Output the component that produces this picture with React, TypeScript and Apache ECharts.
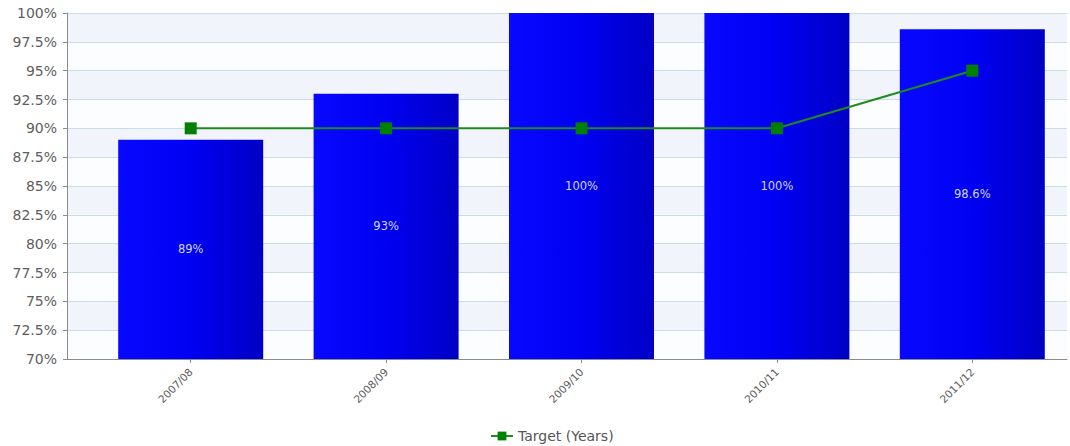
import React, { useEffect, useRef } from "react";
import * as echarts from "echarts";

// Reporting years on the category axis
const years = ["2007/08", "2008/09", "2009/10", "2010/11", "2011/12"];
// Achieved percentage per year (bars)
const achieved = [89, 93, 100, 100, 98.6];
// Target percentage per year (line)
const target = [90, 90, 90, 90, 95];
// Value axis range and step
const yMin = 70;
const yMax = 100;
const yStep = 2.5;

const FONT = "DejaVu Sans";

export default function App() {
  const ref = useRef<HTMLDivElement>(null);

  useEffect(() => {
    if (!ref.current) return;
    const chart = echarts.init(ref.current, undefined, { renderer: "svg" });

    const barFill = new echarts.graphic.LinearGradient(0, 0, 1, 0, [
      { offset: 0, color: "#0808ff" },
      { offset: 0.5, color: "#0000f2" },
      { offset: 1, color: "#0000c6" },
    ]);

    chart.setOption({
      animation: false,
      backgroundColor: "#ffffff",
      textStyle: { fontFamily: FONT },
      grid: [
        // plot frame: value axis, bands and grid lines
        { left: 67, top: 13, width: 1000, height: 346 },
        // band area the bars are laid out in
        { left: 93, top: 13, width: 978, height: 346 },
      ],
      xAxis: [
        {
          type: "category",
          gridIndex: 0,
          data: years,
          axisLine: { show: true, lineStyle: { color: "#8c8c8c", width: 1 } },
          axisTick: { show: false },
          axisLabel: { show: false },
          splitLine: { show: false },
        },
        {
          type: "category",
          gridIndex: 1,
          data: years,
          axisLine: { show: false },
          axisTick: { show: true, alignWithLabel: true, length: 4, lineStyle: { color: "#8c8c8c" } },
          axisLabel: {
            rotate: 45,
            fontSize: 10.5,
            color: "#5a5a5a",
            fontFamily: FONT,
            margin: 11,
          },
        },
      ],
      yAxis: [
        {
          type: "value",
          gridIndex: 0,
          min: yMin,
          max: yMax,
          interval: yStep,
          axisLine: { show: true, lineStyle: { color: "#8c8c8c", width: 1 } },
          axisTick: { show: true, length: 4, lineStyle: { color: "#8c8c8c" } },
          axisLabel: {
            fontSize: 14,
            color: "#5e5e5e",
            fontFamily: FONT,
            margin: 10,
            formatter: (v: number) => `${v}%`,
          },
          splitLine: { show: true, lineStyle: { color: "#c6dee4", width: 1 } },
          splitArea: { show: true, areaStyle: { color: ["#fbfdff", "#f1f5fb"] } },
        },
        {
          type: "value",
          gridIndex: 1,
          min: yMin,
          max: yMax,
          interval: yStep,
          show: false,
          splitLine: { show: false },
        },
      ],
      legend: {
        bottom: -2,
        left: 485,
        data: ["Target (Years)"],
        itemWidth: 22,
        itemHeight: 11,
        itemGap: 4,
        textStyle: { fontSize: 14, color: "#555555", fontFamily: FONT },
      },
      series: [
        {
          name: "Achieved",
          type: "bar",
          xAxisIndex: 1,
          yAxisIndex: 1,
          data: achieved,
          barWidth: 145,
          itemStyle: { color: barFill },
          label: {
            show: true,
            position: "inside",
            color: "#d0d6ff",
            fontSize: 11.5,
            fontFamily: FONT,
            formatter: (p: any) => `${p.value}%`,
          },
        },
        {
          name: "Target (Years)",
          type: "line",
          xAxisIndex: 1,
          yAxisIndex: 1,
          data: target,
          symbol: "rect",
          symbolSize: 12,
          lineStyle: { color: "#1f8a1f", width: 2 },
          itemStyle: { color: "#008000" },
          z: 3,
        },
      ],
    });

    return () => chart.dispose();
  }, []);

  return (
    <div
      ref={ref}
      style={{ position: "fixed", left: 0, top: 0, width: 1070, height: 446 }}
    />
  );
}
